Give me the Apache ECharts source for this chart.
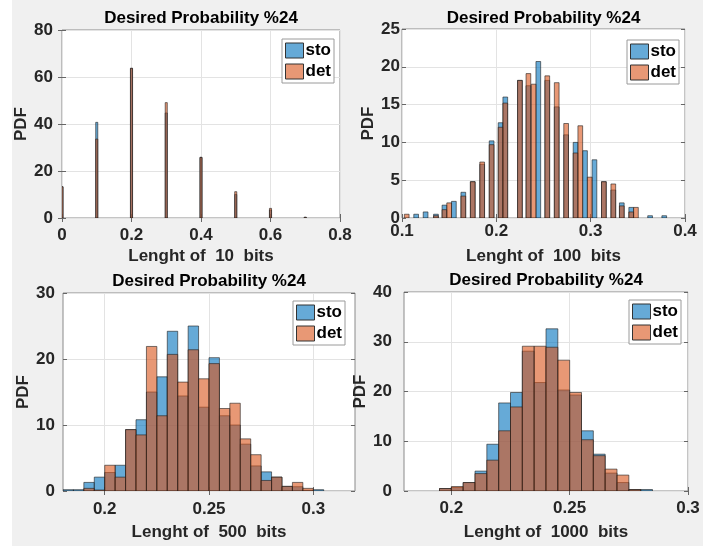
<!DOCTYPE html>
<html><head><meta charset="utf-8">
<script src="https://cdn.jsdelivr.net/npm/echarts@6/dist/echarts.min.js"></script>
<style>
html,body{margin:0;padding:0;background:#fff}
#c{width:719px;height:546px;background:linear-gradient(to right,#fff 0,#fff 12px,#f0f0f0 12px,#f0f0f0 703px,#fff 703px)}
</style>
</head><body><div id="c"></div>
<script>
// ---- Panel 1: length 10 bits (bar centres) ----
const pos10 = [0, 0.1, 0.2, 0.3, 0.4, 0.5, 0.6, 0.7];
const sto10 = [13.3, 40.7, 63.7, 44.7, 25.8, 10.0, 3.4, 0.3];
const det10 = [13.3, 33.6, 63.7, 49.1, 25.8, 11.2, 4.1, 0.3];

// ---- Panel 2: length 100 bits (bar centres) ----
const sto100X = [0.115, 0.125, 0.136, 0.145, 0.155, 0.165, 0.175, 0.185, 0.195, 0.2045, 0.2095, 0.225, 0.234, 0.2445, 0.254, 0.264, 0.274, 0.284, 0.294, 0.304, 0.314, 0.324, 0.333, 0.343, 0.363, 0.378];
const sto100Y = [0.5, 0.8, 0.5, 1.7, 2.2, 3.4, 4.8, 7.1, 10.2, 12.6, 16.0, 18.2, 17.5, 20.7, 18.2, 14.7, 11.0, 10.0, 8.9, 7.7, 4.8, 3.7, 2.0, 1.4, 0.3, 0.3];
const det100X = [0.105, 0.136, 0.145, 0.150, 0.165, 0.175, 0.185, 0.195, 0.2045, 0.2095, 0.225, 0.234, 0.2395, 0.254, 0.264, 0.274, 0.284, 0.289, 0.299, 0.314, 0.324, 0.333, 0.343, 0.348];
const det100Y = [0.5, 0.3, 1.1, 2.0, 2.9, 4.8, 7.4, 9.7, 12.0, 15.2, 18.2, 19.1, 17.7, 18.8, 17.9, 12.5, 8.6, 12.2, 5.4, 4.8, 4.5, 1.6, 0.8, 1.4];

// ---- Panel 3: length 500 bits (bin left edges) ----
const binLeft500 = [0.180, 0.185, 0.190, 0.195, 0.200, 0.205, 0.210, 0.215, 0.220, 0.225, 0.230, 0.235, 0.240, 0.245, 0.250, 0.255, 0.260, 0.265, 0.270, 0.275, 0.280, 0.285, 0.290, 0.295, 0.300];
const sto500 = [0.2, 0.2, 1.3, 2.1, 2.8, 3.9, 9.3, 10.8, 15.0, 17.3, 24.2, 14.4, 25.0, 12.7, 20.2, 11.4, 10.0, 7.1, 3.8, 2.9, 2.1, 0.7, 0.65, 0.1, 0.2];
const det500 = [0, 0, 0.4, 0.15, 3.9, 2.1, 9.3, 8.5, 21.9, 11.4, 20.7, 16.5, 21.4, 17.0, 19.3, 12.5, 13.3, 7.9, 5.5, 1.6, 2.1, 0.7, 1.3, 0.4, 0];

// ---- Panel 4: length 1000 bits (bin left edges) ----
const binLeft1000 = [0.195, 0.200, 0.205, 0.210, 0.215, 0.220, 0.225, 0.230, 0.235, 0.240, 0.245, 0.250, 0.255, 0.260, 0.265, 0.270, 0.275, 0.280];
const sto1000 = [0.5, 0.7, 1.7, 4.0, 9.4, 17.7, 19.8, 28.1, 21.8, 32.6, 20.3, 19.3, 12.1, 7.4, 3.6, 1.7, 0.3, 0.3];
const det1000 = [0.5, 0.9, 1.7, 3.5, 6.2, 12.1, 16.9, 29.1, 29.1, 28.9, 26.3, 19.8, 10.3, 7.1, 4.4, 3.2, 0.3, 0];

const xTicksFine = [0.2, 0.25, 0.3];
const titleText = 'Desired Probability %24';
const xNames = ['Lenght of  10  bits', 'Lenght of  100  bits', 'Lenght of  500  bits', 'Lenght of  1000  bits'];

const FONT = '"Liberation Sans", Arial, Helvetica, sans-serif';
const STO = 'rgba(0,114,189,0.6)';
const DET = 'rgba(217,83,25,0.6)';
const EDGE = 'rgba(30,30,30,0.75)';

function centred(xs, ys, w) { return xs.map((x, i) => [x - w / 2, x + w / 2, ys[i]]); }
function binned(lefts, ys, w) { return lefts.map((l, i) => [l, l + w, ys[i]]); }

const panels = [
  { grid: { left: 62, top: 30, width: 278, height: 188 }, x: { min: 0, max: 0.8, interval: 0.2 }, y: { min: 0, max: 80, interval: 20 },
    titleY: 18, xGap: 30, yGap: 29, xMargin: 9, yMargin: 9, legend: { left: 282, top: 39 },
    sto: centred(pos10, sto10, 0.006), det: centred(pos10, det10, 0.006) },
  { grid: { left: 402, top: 29, width: 283, height: 189 }, x: { min: 0.1, max: 0.4, interval: 0.1 }, y: { min: 0, max: 25, interval: 5 },
    titleY: 18, xGap: 30, yGap: 25, xMargin: 5, yMargin: 2, legend: { left: 627, top: 40 },
    sto: centred(sto100X, sto100Y, 0.005), det: centred(det100X, det100Y, 0.005) },
  { grid: { left: 63, top: 293, width: 292, height: 198 }, x: { min: 0.18, max: 0.32, custom: xTicksFine }, y: { min: 0, max: 30, interval: 10 },
    titleY: 281, xGap: 33, yGap: 31, xMargin: 10, yMargin: 8, legend: { left: 293, top: 301 },
    sto: binned(binLeft500, sto500, 0.005), det: binned(binLeft500, det500, 0.005) },
  { grid: { left: 404, top: 292, width: 284, height: 199 }, x: { min: 0.18, max: 0.30, custom: xTicksFine }, y: { min: 0, max: 40, interval: 10 },
    titleY: 280, xGap: 33, yGap: 29, xMargin: 9, yMargin: 12, legend: { left: 629, top: 300 },
    sto: binned(binLeft1000, sto1000, 0.005), det: binned(binLeft1000, det1000, 0.005) }
];

const labelStyle = { fontFamily: FONT, fontWeight: 'bold', fontSize: 17, color: '#262626' };
const nameStyle = { fontFamily: FONT, fontWeight: 'bold', fontSize: 17, color: '#262626' };

function renderBar(params, api) {
  const y = api.value(2);
  if (!(y > 0)) return null;
  const p0 = api.coord([api.value(0), y]);
  const p1 = api.coord([api.value(1), 0]);
  return {
    type: 'rect',
    shape: { x: p0[0], y: p0[1], width: p1[0] - p0[0], height: p1[1] - p0[1] },
    style: { fill: api.visual('color'), stroke: EDGE, lineWidth: 0.8 }
  };
}

const option = { animation: false, grid: [], xAxis: [], yAxis: [], series: [], legend: [], graphic: [] };

panels.forEach((p, i) => {
  option.grid.push(Object.assign({ show: true, backgroundColor: '#fff', borderColor: '#8a8a8a', borderWidth: 1, containLabel: false }, p.grid));
  const tickBase = { show: true, inside: true, length: 4, lineStyle: { color: '#666', width: 1 } };
  const xTick = Object.assign({}, tickBase), xLab = Object.assign({ margin: p.xMargin }, labelStyle);
  if (p.x.custom) { xTick.customValues = p.x.custom; xLab.customValues = p.x.custom; }
  const xBase = { type: 'value', gridIndex: i, min: p.x.min, max: p.x.max };
  if (p.x.interval) xBase.interval = p.x.interval;
  option.xAxis.push(Object.assign({}, xBase, {
    position: 'bottom', name: xNames[i], nameLocation: 'middle', nameGap: p.xGap, nameTextStyle: nameStyle,
    axisLine: { show: false }, axisTick: xTick, axisLabel: xLab,
    splitLine: { show: true, lineStyle: { color: '#e3e3e3', width: 1 } }
  }));
  const xTopTick = Object.assign({}, tickBase);
  if (p.x.custom) xTopTick.customValues = p.x.custom;
  option.xAxis.push(Object.assign({}, xBase, {
    position: 'top', axisLine: { show: false }, axisTick: xTopTick, axisLabel: { show: false }, splitLine: { show: false }
  }));
  const yBase = { type: 'value', gridIndex: i, min: p.y.min, max: p.y.max, interval: p.y.interval };
  option.yAxis.push(Object.assign({}, yBase, {
    position: 'left', name: 'PDF', nameLocation: 'middle', nameGap: p.yGap, nameTextStyle: nameStyle,
    axisLine: { show: false }, axisTick: Object.assign({}, tickBase),
    axisLabel: Object.assign({ margin: p.yMargin }, labelStyle),
    splitLine: { show: true, lineStyle: { color: '#e3e3e3', width: 1 } }
  }));
  option.yAxis.push(Object.assign({}, yBase, {
    position: 'right', axisLine: { show: false }, axisTick: Object.assign({}, tickBase), axisLabel: { show: false }, splitLine: { show: false }
  }));
  option.series.push({
    type: 'custom', name: 'sto', xAxisIndex: 2 * i, yAxisIndex: 2 * i, clip: true,
    itemStyle: { color: STO }, renderItem: renderBar, encode: { x: [0, 1], y: 2 }, data: p.sto, z: 2
  });
  option.series.push({
    type: 'custom', name: 'det', xAxisIndex: 2 * i, yAxisIndex: 2 * i, clip: true,
    itemStyle: { color: DET }, renderItem: renderBar, encode: { x: [0, 1], y: 2 }, data: p.det, z: 3
  });
  option.legend.push({
    left: p.legend.left, top: p.legend.top, orient: 'vertical', selectedMode: false,
    icon: 'rect', itemWidth: 18, itemHeight: 15, itemGap: 4, padding: [3, 3, 3, 3],
    backgroundColor: '#fff', borderColor: '#9a9a9a', borderWidth: 1,
    textStyle: { fontFamily: FONT, fontWeight: 'bold', fontSize: 17, color: '#000', padding: [0, 0, 0, -3] },
    data: [
      { name: 'sto', itemStyle: { color: STO, borderColor: '#333', borderWidth: 1 } },
      { name: 'det', itemStyle: { color: DET, borderColor: '#333', borderWidth: 1 } }
    ]
  });
  option.graphic.push({
    type: 'text', x: p.grid.left + p.grid.width / 2, y: p.titleY, silent: true,
    style: { text: titleText, font: 'bold 17px ' + FONT, fill: '#000', align: 'center', verticalAlign: 'middle', textAlign: 'center', textVerticalAlign: 'middle' }
  });
});

const chart = echarts.init(document.getElementById('c'), null, { renderer: 'canvas' });
chart.setOption(option);
</script>
</body></html>
